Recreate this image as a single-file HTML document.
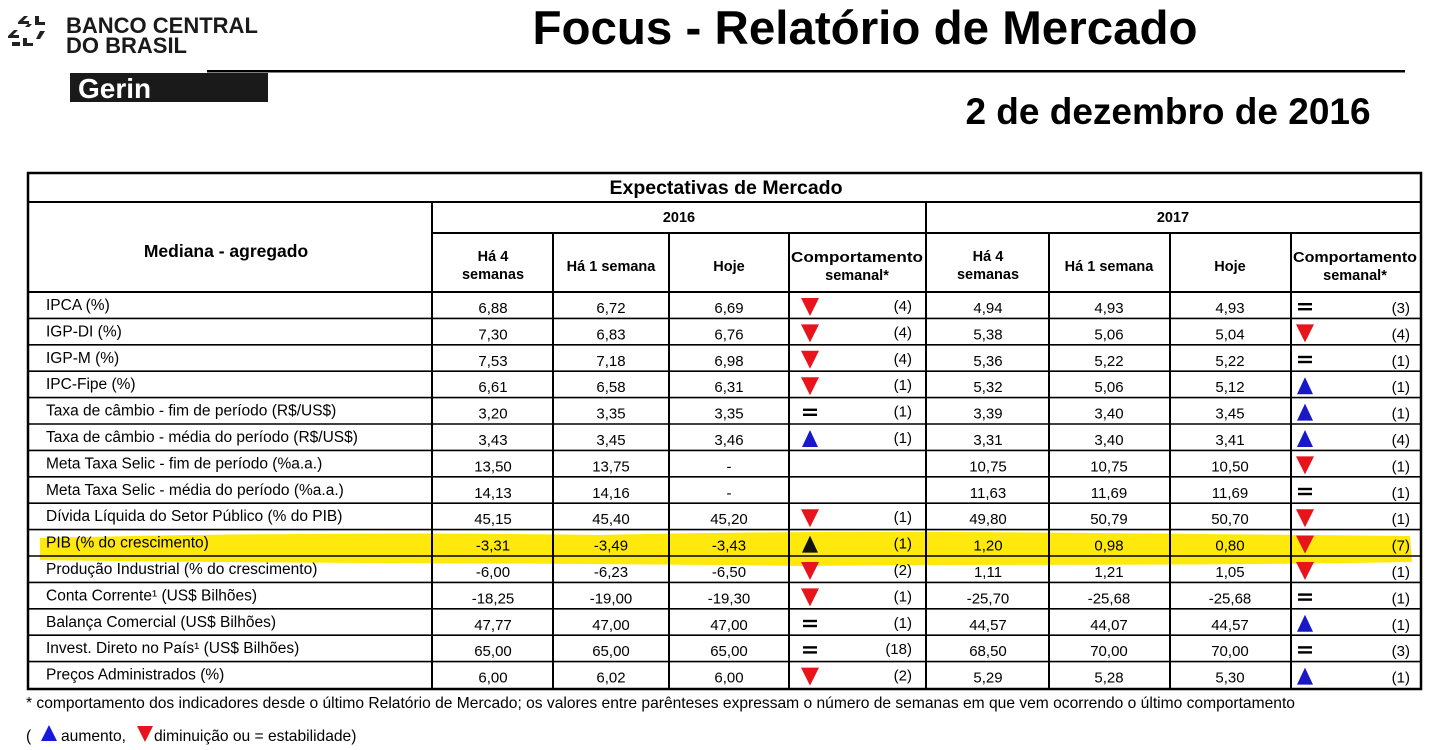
<!DOCTYPE html>
<html><head><meta charset="utf-8"><style>
html,body{margin:0;padding:0;background:#fff;}
svg{display:block;font-family:"Liberation Sans",Arial,sans-serif;}
.v{font-size:15px;text-anchor:middle;fill:#000}
.l{font-size:15.5px;fill:#000}
.c{font-size:15px;text-anchor:end;fill:#000}
.h{font-size:14.5px;font-weight:bold;text-anchor:middle;fill:#000}
</style></head><body>
<svg width="1440" height="750" viewBox="0 0 1440 750" xmlns="http://www.w3.org/2000/svg">
<defs>
<polygon id="dn" points="-9,-7 9,-7 0,11" fill="#e8141b"/>
<polygon id="up" points="-8,10 8,10 0,-7" fill="#1818c8"/>
<g id="eq"><rect x="-7" y="-2" width="14" height="2.4" fill="#000"/><rect x="-7" y="3" width="14" height="2.4" fill="#000"/></g>
</defs>
<!-- logo -->
<g fill="#222">
<path d="M18,22 l6,-6 h4 l-5,5 h6 v3 h-11z M35,16 h4 v6 h6 v3 h-10z M8,36 l6,-6 h4 l-5,5 h6 v3 h-11z M23,38 h4 v5 h6 v3 h-10z M40,31 h5 l-5,8 h-4z M25,27 l3,-3 h4 l-3,3z"/>
<path d="M12,42 h8 v4 h-8z"/>
</g>
<text x="66" y="33" font-size="22" font-weight="bold" fill="#1a1a1a">BANCO CENTRAL</text>
<text x="66" y="53" font-size="22" font-weight="bold" fill="#1a1a1a">DO BRASIL</text>
<rect x="70" y="73" width="198" height="29" fill="#1a1a1a"/>
<text x="78" y="98" font-size="28" font-weight="bold" fill="#fff">Gerin</text>
<rect x="207" y="70" width="1198" height="2.5" fill="#000"/>
<text x="865" y="44" font-size="47.5" font-weight="bold" text-anchor="middle" fill="#000">Focus - Relatório de Mercado</text>
<text x="1168" y="124" font-size="37" font-weight="bold" text-anchor="middle" fill="#000">2 de dezembro de 2016</text>

<!-- highlight -->
<path d="M40,538 C200,534 400,532 600,535 C800,530 1000,532 1200,534 L1410,536 L1412,562 C1200,566 1000,564 800,566 C600,563 300,564 40,560 Z" fill="#ffe800" opacity="0.95"/>

<!-- table lines -->
<g stroke="#000" fill="none">
<rect x="28" y="173" width="1393" height="516" stroke-width="2.5"/>
<line x1="28" y1="202" x2="1421" y2="202" stroke-width="2"/>
<line x1="432" y1="233" x2="1421" y2="233" stroke-width="2"/>
<line x1="28" y1="292" x2="1421" y2="292" stroke-width="2"/>
<line x1="432" y1="202" x2="432" y2="689" stroke-width="2"/>
<line x1="926" y1="202" x2="926" y2="689" stroke-width="2"/>
<line x1="553" y1="233" x2="553" y2="689" stroke-width="2"/>
<line x1="669" y1="233" x2="669" y2="689" stroke-width="2"/>
<line x1="789" y1="233" x2="789" y2="689" stroke-width="2"/>
<line x1="1049" y1="233" x2="1049" y2="689" stroke-width="2"/>
<line x1="1170" y1="233" x2="1170" y2="689" stroke-width="2"/>
<line x1="1291" y1="233" x2="1291" y2="689" stroke-width="2"/>
<g stroke-width="1.6">
<line x1="28" y1="318.4" x2="1421" y2="318.4"/><line x1="28" y1="344.8" x2="1421" y2="344.8"/>
<line x1="28" y1="371.2" x2="1421" y2="371.2"/><line x1="28" y1="397.6" x2="1421" y2="397.6"/>
<line x1="28" y1="424" x2="1421" y2="424"/><line x1="28" y1="450.4" x2="1421" y2="450.4"/>
<line x1="28" y1="476.8" x2="1421" y2="476.8"/><line x1="28" y1="503.2" x2="1421" y2="503.2"/>
<line x1="28" y1="529.6" x2="1421" y2="529.6"/><line x1="28" y1="556" x2="1421" y2="556"/>
<line x1="28" y1="582.4" x2="1421" y2="582.4"/><line x1="28" y1="608.8" x2="1421" y2="608.8"/>
<line x1="28" y1="635.2" x2="1421" y2="635.2"/><line x1="28" y1="661.6" x2="1421" y2="661.6"/>
</g>
</g>

<text x="726" y="194" font-size="19.5" font-weight="bold" text-anchor="middle">Expectativas de Mercado</text>
<text x="226" y="257" font-size="17.5" font-weight="bold" text-anchor="middle">Mediana - agregado</text>
<text x="679" y="222" class="h">2016</text>
<text x="1173" y="222" class="h">2017</text>
<text x="493" y="261" class="h">Há 4</text><text x="493" y="279" class="h">semanas</text>
<text x="611" y="271" class="h">Há 1 semana</text>
<text x="729" y="271" class="h">Hoje</text>
<text x="857" y="262" class="h" textLength="132" lengthAdjust="spacingAndGlyphs">Comportamento</text><text x="857" y="280" class="h">semanal*</text>
<text x="988" y="261" class="h">Há 4</text><text x="988" y="279" class="h">semanas</text>
<text x="1109" y="271" class="h">Há 1 semana</text>
<text x="1230" y="271" class="h">Hoje</text>
<text x="1355" y="262" class="h" textLength="124" lengthAdjust="spacingAndGlyphs">Comportamento</text><text x="1355" y="280" class="h">semanal*</text>

<!-- rows -->
<g transform="translate(0,292)">
<text x="46" y="18" class="l">IPCA (%)</text>
<text x="493" y="21" class="v">6,88</text><text x="611" y="21" class="v">6,72</text><text x="729" y="21" class="v">6,69</text>
<use href="#dn" x="810" y="13"/><text x="912" y="19" class="c">(4)</text>
<text x="988" y="21" class="v">4,94</text><text x="1109" y="21" class="v">4,93</text><text x="1230" y="21" class="v">4,93</text>
<use href="#eq" x="1305" y="13"/><text x="1410" y="21" class="c">(3)</text>
</g>
<g transform="translate(0,318.4)">
<text x="46" y="18" class="l">IGP-DI (%)</text>
<text x="493" y="21" class="v">7,30</text><text x="611" y="21" class="v">6,83</text><text x="729" y="21" class="v">6,76</text>
<use href="#dn" x="810" y="13"/><text x="912" y="19" class="c">(4)</text>
<text x="988" y="21" class="v">5,38</text><text x="1109" y="21" class="v">5,06</text><text x="1230" y="21" class="v">5,04</text>
<use href="#dn" x="1305" y="13"/><text x="1410" y="21" class="c">(4)</text>
</g>
<g transform="translate(0,344.8)">
<text x="46" y="18" class="l">IGP-M (%)</text>
<text x="493" y="21" class="v">7,53</text><text x="611" y="21" class="v">7,18</text><text x="729" y="21" class="v">6,98</text>
<use href="#dn" x="810" y="13"/><text x="912" y="19" class="c">(4)</text>
<text x="988" y="21" class="v">5,36</text><text x="1109" y="21" class="v">5,22</text><text x="1230" y="21" class="v">5,22</text>
<use href="#eq" x="1305" y="13"/><text x="1410" y="21" class="c">(1)</text>
</g>
<g transform="translate(0,371.2)">
<text x="46" y="18" class="l">IPC-Fipe (%)</text>
<text x="493" y="21" class="v">6,61</text><text x="611" y="21" class="v">6,58</text><text x="729" y="21" class="v">6,31</text>
<use href="#dn" x="810" y="13"/><text x="912" y="19" class="c">(1)</text>
<text x="988" y="21" class="v">5,32</text><text x="1109" y="21" class="v">5,06</text><text x="1230" y="21" class="v">5,12</text>
<use href="#up" x="1305" y="13"/><text x="1410" y="21" class="c">(1)</text>
</g>
<g transform="translate(0,397.6)">
<text x="46" y="18" class="l">Taxa de câmbio - fim de período (R$/US$)</text>
<text x="493" y="21" class="v">3,20</text><text x="611" y="21" class="v">3,35</text><text x="729" y="21" class="v">3,35</text>
<use href="#eq" x="810" y="13"/><text x="912" y="19" class="c">(1)</text>
<text x="988" y="21" class="v">3,39</text><text x="1109" y="21" class="v">3,40</text><text x="1230" y="21" class="v">3,45</text>
<use href="#up" x="1305" y="13"/><text x="1410" y="21" class="c">(1)</text>
</g>
<g transform="translate(0,424)">
<text x="46" y="18" class="l">Taxa de câmbio - média do período (R$/US$)</text>
<text x="493" y="21" class="v">3,43</text><text x="611" y="21" class="v">3,45</text><text x="729" y="21" class="v">3,46</text>
<use href="#up" x="810" y="13"/><text x="912" y="19" class="c">(1)</text>
<text x="988" y="21" class="v">3,31</text><text x="1109" y="21" class="v">3,40</text><text x="1230" y="21" class="v">3,41</text>
<use href="#up" x="1305" y="13"/><text x="1410" y="21" class="c">(4)</text>
</g>
<g transform="translate(0,450.4)">
<text x="46" y="18" class="l">Meta Taxa Selic - fim de período (%a.a.)</text>
<text x="493" y="21" class="v">13,50</text><text x="611" y="21" class="v">13,75</text><text x="729" y="21" class="v">-</text>
<text x="988" y="21" class="v">10,75</text><text x="1109" y="21" class="v">10,75</text><text x="1230" y="21" class="v">10,50</text>
<use href="#dn" x="1305" y="13"/><text x="1410" y="21" class="c">(1)</text>
</g>
<g transform="translate(0,476.8)">
<text x="46" y="18" class="l">Meta Taxa Selic - média do período (%a.a.)</text>
<text x="493" y="21" class="v">14,13</text><text x="611" y="21" class="v">14,16</text><text x="729" y="21" class="v">-</text>
<text x="988" y="21" class="v">11,63</text><text x="1109" y="21" class="v">11,69</text><text x="1230" y="21" class="v">11,69</text>
<use href="#eq" x="1305" y="13"/><text x="1410" y="21" class="c">(1)</text>
</g>
<g transform="translate(0,503.2)">
<text x="46" y="18" class="l">Dívida Líquida do Setor Público (% do PIB)</text>
<text x="493" y="21" class="v">45,15</text><text x="611" y="21" class="v">45,40</text><text x="729" y="21" class="v">45,20</text>
<use href="#dn" x="810" y="13"/><text x="912" y="19" class="c">(1)</text>
<text x="988" y="21" class="v">49,80</text><text x="1109" y="21" class="v">50,79</text><text x="1230" y="21" class="v">50,70</text>
<use href="#dn" x="1305" y="13"/><text x="1410" y="21" class="c">(1)</text>
</g>
<g transform="translate(0,529.6)">
<text x="46" y="18" class="l">PIB (% do crescimento)</text>
<text x="493" y="21" class="v">-3,31</text><text x="611" y="21" class="v">-3,49</text><text x="729" y="21" class="v">-3,43</text>
<polygon points="-8,10 8,10 0,-7" fill="#111" transform="translate(810,13)"/><text x="912" y="19" class="c">(1)</text>
<text x="988" y="21" class="v">1,20</text><text x="1109" y="21" class="v">0,98</text><text x="1230" y="21" class="v">0,80</text>
<use href="#dn" x="1305" y="13"/><text x="1410" y="21" class="c">(7)</text>
</g>
<g transform="translate(0,556)">
<text x="46" y="18" class="l">Produção Industrial (% do crescimento)</text>
<text x="493" y="21" class="v">-6,00</text><text x="611" y="21" class="v">-6,23</text><text x="729" y="21" class="v">-6,50</text>
<use href="#dn" x="810" y="13"/><text x="912" y="19" class="c">(2)</text>
<text x="988" y="21" class="v">1,11</text><text x="1109" y="21" class="v">1,21</text><text x="1230" y="21" class="v">1,05</text>
<use href="#dn" x="1305" y="13"/><text x="1410" y="21" class="c">(1)</text>
</g>
<g transform="translate(0,582.4)">
<text x="46" y="18" class="l">Conta Corrente¹ (US$ Bilhões)</text>
<text x="493" y="21" class="v">-18,25</text><text x="611" y="21" class="v">-19,00</text><text x="729" y="21" class="v">-19,30</text>
<use href="#dn" x="810" y="13"/><text x="912" y="19" class="c">(1)</text>
<text x="988" y="21" class="v">-25,70</text><text x="1109" y="21" class="v">-25,68</text><text x="1230" y="21" class="v">-25,68</text>
<use href="#eq" x="1305" y="13"/><text x="1410" y="21" class="c">(1)</text>
</g>
<g transform="translate(0,608.8)">
<text x="46" y="18" class="l">Balança Comercial (US$ Bilhões)</text>
<text x="493" y="21" class="v">47,77</text><text x="611" y="21" class="v">47,00</text><text x="729" y="21" class="v">47,00</text>
<use href="#eq" x="810" y="13"/><text x="912" y="19" class="c">(1)</text>
<text x="988" y="21" class="v">44,57</text><text x="1109" y="21" class="v">44,07</text><text x="1230" y="21" class="v">44,57</text>
<use href="#up" x="1305" y="13"/><text x="1410" y="21" class="c">(1)</text>
</g>
<g transform="translate(0,635.2)">
<text x="46" y="18" class="l">Invest. Direto no País¹ (US$ Bilhões)</text>
<text x="493" y="21" class="v">65,00</text><text x="611" y="21" class="v">65,00</text><text x="729" y="21" class="v">65,00</text>
<use href="#eq" x="810" y="13"/><text x="912" y="19" class="c">(18)</text>
<text x="988" y="21" class="v">68,50</text><text x="1109" y="21" class="v">70,00</text><text x="1230" y="21" class="v">70,00</text>
<use href="#eq" x="1305" y="13"/><text x="1410" y="21" class="c">(3)</text>
</g>
<g transform="translate(0,661.6)">
<text x="46" y="18" class="l">Preços Administrados (%)</text>
<text x="493" y="21" class="v">6,00</text><text x="611" y="21" class="v">6,02</text><text x="729" y="21" class="v">6,00</text>
<use href="#dn" x="810" y="13"/><text x="912" y="19" class="c">(2)</text>
<text x="988" y="21" class="v">5,29</text><text x="1109" y="21" class="v">5,28</text><text x="1230" y="21" class="v">5,30</text>
<use href="#up" x="1305" y="13"/><text x="1410" y="21" class="c">(1)</text>
</g>

<text x="26" y="708" font-size="15.6">* comportamento dos indicadores desde o último Relatório de Mercado; os valores entre parênteses expressam o número de semanas em que vem ocorrendo o último comportamento</text>
<text x="26" y="741" font-size="15.6">(</text>
<polygon points="41,741 57,741 49,725" fill="#1818e0"/>
<text x="61" y="741" font-size="15.6">aumento,</text>
<polygon points="137,726 153,726 145,742" fill="#e8141b"/>
<text x="154" y="741" font-size="15.6">diminuição ou = estabilidade)</text>
</svg>
</body></html>
